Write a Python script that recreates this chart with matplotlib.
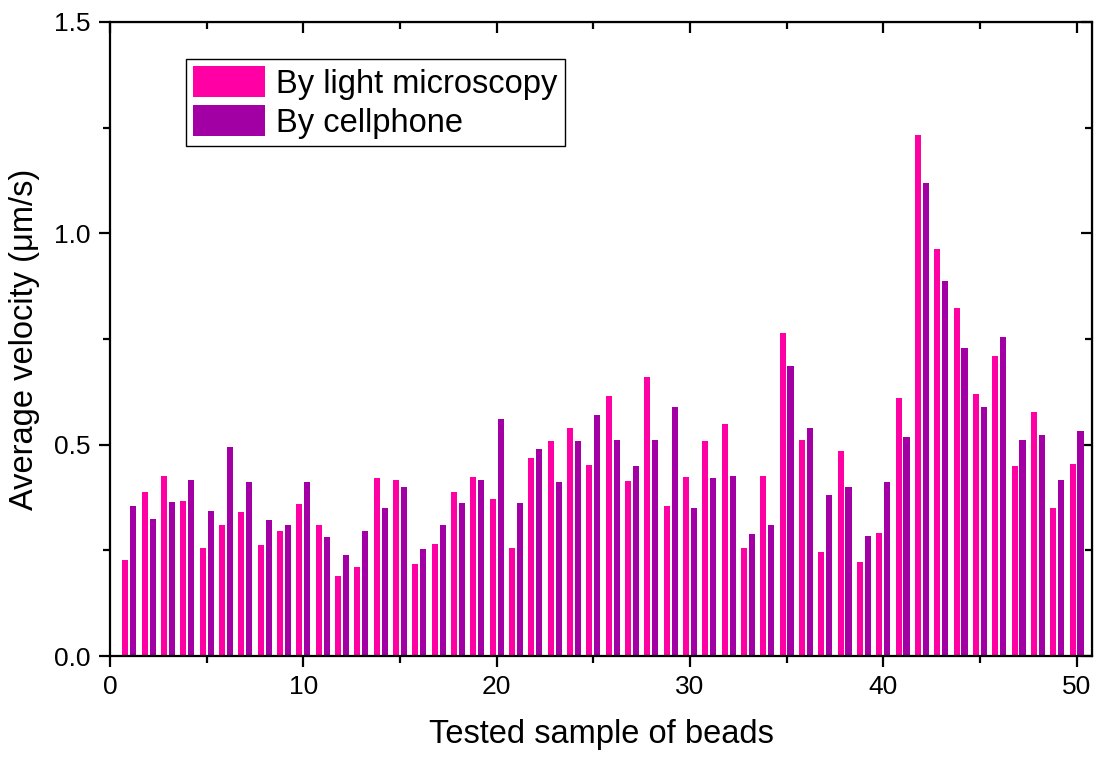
import numpy as np
import matplotlib
matplotlib.use("Agg")
from matplotlib import pyplot as plt
from matplotlib.ticker import MultipleLocator

plt.rcParams['font.family'] = ['Liberation Sans', 'DejaVu Sans']

# bead index 1..50
samples = list(range(1, 51))

# average velocity (um/s)
light_microscopy = [
    0.226, 0.387, 0.427, 0.367, 0.255, 0.309, 0.341, 0.263, 0.295, 0.360,
    0.311, 0.189, 0.211, 0.421, 0.416, 0.218, 0.264, 0.389, 0.423, 0.371,
    0.255, 0.468, 0.509, 0.540, 0.453, 0.615, 0.415, 0.659, 0.356, 0.423,
    0.509, 0.550, 0.255, 0.426, 0.763, 0.510, 0.245, 0.485, 0.222, 0.291,
    0.611, 1.233, 0.962, 0.823, 0.621, 0.709, 0.450, 0.578, 0.350, 0.454,
]
cellphone = [
    0.354, 0.325, 0.364, 0.416, 0.342, 0.494, 0.412, 0.321, 0.311, 0.412,
    0.281, 0.240, 0.296, 0.351, 0.401, 0.252, 0.311, 0.362, 0.416, 0.561,
    0.361, 0.490, 0.412, 0.509, 0.571, 0.510, 0.449, 0.510, 0.589, 0.349,
    0.421, 0.426, 0.288, 0.311, 0.685, 0.539, 0.381, 0.399, 0.284, 0.412,
    0.517, 1.118, 0.886, 0.729, 0.589, 0.754, 0.510, 0.522, 0.416, 0.532,
]

series_labels = ['By light microscopy', 'By cellphone']
colors = ['#FF00A4', '#A200A4']

fig = plt.figure(figsize=(10.96, 7.57), dpi=100)
ax = fig.add_axes([0.1004, 0.1334, 0.8960, 0.8376])

x = np.array(samples)
w = 0.32
ax.bar(x - 0.205, light_microscopy, width=w, color=colors[0], label=series_labels[0])
ax.bar(x + 0.205, cellphone, width=w, color=colors[1], label=series_labels[1])

ax.set_xlim(0, 50.8)
ax.set_ylim(0, 1.5)
ax.xaxis.set_major_locator(MultipleLocator(10))
ax.xaxis.set_minor_locator(MultipleLocator(5))
ax.yaxis.set_major_locator(MultipleLocator(0.5))
ax.yaxis.set_minor_locator(MultipleLocator(0.25))
ax.yaxis.set_major_formatter(matplotlib.ticker.FormatStrFormatter('%.1f'))

for s in ax.spines.values():
    s.set_linewidth(1.6)

ax.tick_params(axis='both', which='major', direction='out', length=8, width=1.6,
               labelsize=19, pad=6)
ax.tick_params(axis='both', which='minor', direction='out', length=5, width=1.6)

# inward ticks on top and right
axt = ax.secondary_xaxis('top')
axt.xaxis.set_major_locator(MultipleLocator(10))
axt.xaxis.set_minor_locator(MultipleLocator(5))
axt.tick_params(which='major', direction='in', length=8, width=1.6, labeltop=False)
axt.tick_params(which='minor', direction='in', length=5, width=1.6)
axr = ax.secondary_yaxis('right')
axr.yaxis.set_major_locator(MultipleLocator(0.5))
axr.yaxis.set_minor_locator(MultipleLocator(0.25))
axr.tick_params(which='major', direction='in', length=8, width=1.6, labelright=False)
axr.tick_params(which='minor', direction='in', length=5, width=1.6)

ax.set_xlabel('Tested sample of beads', fontsize=23.5, labelpad=14)
ax.set_ylabel('Average velocity (\u03bcm/s)', fontsize=23.5, labelpad=10)

leg = ax.legend(loc='upper left', bbox_to_anchor=(0.077, 0.9416), fontsize=23.5,
                frameon=True, fancybox=False, edgecolor='black', framealpha=1,
                handlelength=2.2, handleheight=1.1, labelspacing=0.15,
                handletextpad=0.35, borderpad=0.22, borderaxespad=0)
leg.get_frame().set_linewidth(1.0)

fig.savefig('out.png', dpi=100)
